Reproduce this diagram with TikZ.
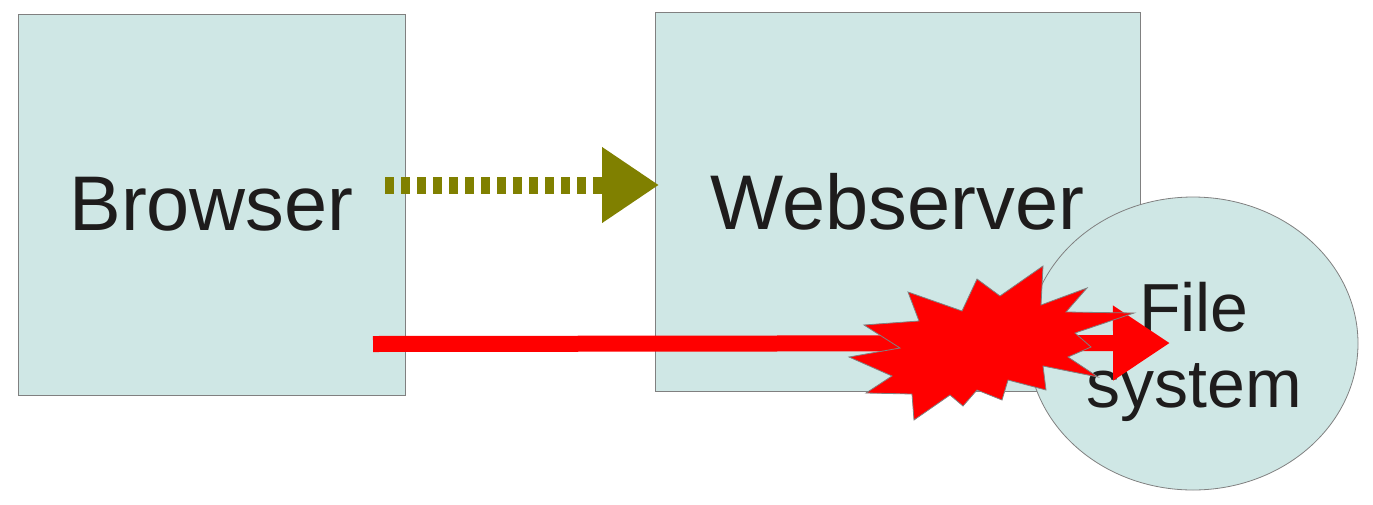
\documentclass[tikz,border=0pt]{standalone}
\usepackage{fontspec}
\setmainfont{Liberation Sans}
\usetikzlibrary{arrows.meta,shapes.geometric}
\definecolor{boxfill}{HTML}{CFE7E5}
\definecolor{boxline}{HTML}{808080}
\definecolor{olivec}{HTML}{808000}
\definecolor{txt}{HTML}{1E1C1C}
\tikzset{
  box/.style={draw=boxline, line width=0.8pt, fill=boxfill, inner sep=0pt, text=txt, font=\fontsize{77.5}{80}\selectfont},
  fsbox/.style={ellipse, draw=boxline, line width=0.8pt, fill=boxfill, inner sep=0pt, minimum width=330pt, minimum height=293pt},
  fstext/.style={text=txt, align=center, inner sep=0pt, font=\fontsize{68}{76}\selectfont},
  olivearrow/.style={draw=olivec, line width=17pt, dash pattern=on 9pt off 7pt, -{Triangle[length=57pt,width=72pt]}},
  redarrow/.style={draw=red, line width=16pt, -{Triangle[length=57pt,width=71pt]}},
  burst/.style={fill=red, draw=boxline, line width=0.8pt, line join=miter}
}
\begin{document}
\begin{tikzpicture}[x=1pt,y=-1pt]
\useasboundingbox (0,0) rectangle (1373,504);
\node[box, minimum width=387pt, minimum height=381pt] (browser) at (211.5,204.5) {Browser};
\node[box, minimum width=485pt, minimum height=379pt] (webserver) at (897.5,201.5) {Webserver};
\node[fsbox] (fs) at (1193,343.5) {};
\node[fstext] (fslabel) at (1194,352) {File\\system};
\coordinate (olivestart) at (385,185);
\coordinate (oliveend) at (659,185);
\draw[olivearrow] (olivestart) -- (oliveend);
\coordinate (redstart) at (373,344);
\coordinate (redend) at (1170,343);
\draw[redarrow] (redstart) -- (redend);
\draw[burst] (1043,266) -- (1041,305) -- (1087,288) -- (1066,312) -- (1134,313)
  -- (1075,333) -- (1091,347) -- (1068,357) -- (1098,377) -- (1043,366)
  -- (1046,390) -- (1008,380) -- (1002,400) -- (977,390) -- (963,406)
  -- (950,395) -- (914,420) -- (912,394) -- (866,393) -- (892,376)
  -- (849,357) -- (900,348) -- (864,325) -- (919,321) -- (908,292)
  -- (962,311) -- (977,279) -- (1000,296) -- cycle;
\end{tikzpicture}
\end{document}
